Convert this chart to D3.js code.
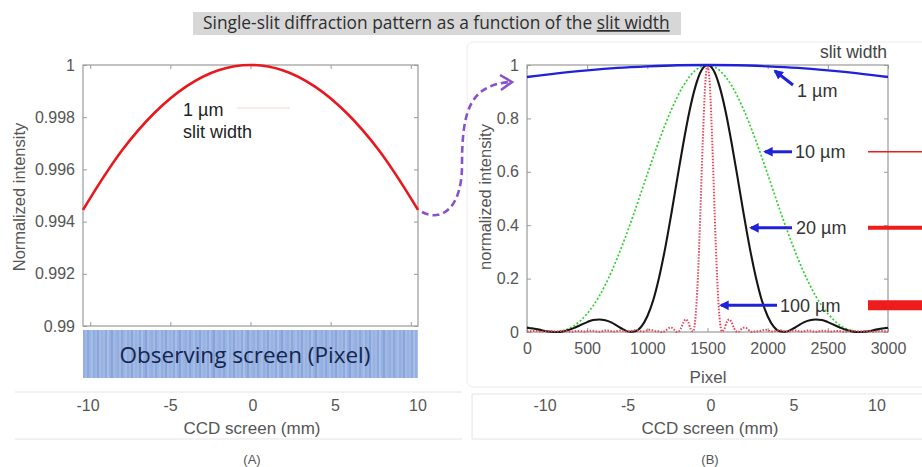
<!DOCTYPE html>
<html>
<head>
<meta charset="utf-8">
<script src="https://cdn.jsdelivr.net/npm/d3@7/dist/d3.min.js"></script>
<style>
  body { margin: 0; background: #fff; }
  text { font-family: "Liberation Sans", Arial, sans-serif; }
</style>
</head>
<body>
<svg id="fig" width="922" height="467"></svg>
<script>
// ---------- data ----------
const ccdTicks = [-10, -5, 0, 5, 10];
const leftYTicks = [0.99, 0.992, 0.994, 0.996, 0.998, 1];
const rightYTicks = [0, 0.2, 0.4, 0.6, 0.8, 1];
const pixelTicks = [0, 500, 1000, 1500, 2000, 2500, 3000];

// (A) 1 µm slit: position on screen (mm) and normalized intensity
const slit1Pos = [-10.45, -10, -8, -6, -4, -2, 0, 2, 4, 6, 8, 10, 10.45];
const slit1Int = [0.99445, 0.9949, 0.99674, 0.99816, 0.99918, 0.9998, 1,
                  0.9998, 0.99918, 0.99816, 0.99674, 0.9949, 0.99445];

// (B) 1 µm slit on the pixel axis
const w1Pix = [0, 250, 500, 750, 1000, 1250, 1500, 1750, 2000, 2250, 2500, 2750, 3000];
const w1Int = [0.955, 0.969, 0.980, 0.989, 0.995, 0.999, 1, 0.999, 0.995, 0.989, 0.980, 0.969, 0.955];

// (B) 10 µm slit
const w10Pix = [0, 100, 200, 300, 400, 500, 600, 700, 800, 900, 1000, 1100, 1200, 1300, 1400, 1500,
                1600, 1700, 1800, 1900, 2000, 2100, 2200, 2300, 2400, 2500, 2600, 2700, 2800, 2900, 3000];
const w10Int = [0.019, 0.007, 0.000, 0.005, 0.026, 0.069, 0.134, 0.224, 0.334, 0.459, 0.591, 0.719, 0.833, 0.923, 0.980, 1,
                0.980, 0.923, 0.833, 0.719, 0.591, 0.459, 0.334, 0.224, 0.134, 0.069, 0.026, 0.005, 0.000, 0.007, 0.019];

// (B) 20 µm slit
const w20Pix = [0, 50, 100, 150, 200, 250, 300, 350, 400, 450, 500, 550, 600, 650, 700, 750, 800, 850, 900, 950,
                1000, 1050, 1100, 1150, 1200, 1250, 1300, 1350, 1400, 1450, 1500,
                1550, 1600, 1650, 1700, 1750, 1800, 1850, 1900, 1950, 2000, 2050, 2100, 2150, 2200, 2250,
                2300, 2350, 2400, 2450, 2500, 2550, 2600, 2650, 2700, 2750, 2800, 2850, 2900, 2950, 3000];
const w20Int = [0.016, 0.013, 0.009, 0.004, 0.001, 0.000, 0.002, 0.008, 0.017, 0.027, 0.037, 0.045, 0.047, 0.044, 0.036,
                0.023, 0.010, 0.001, 0.003, 0.020, 0.059, 0.121, 0.209, 0.318, 0.444, 0.578, 0.709, 0.827, 0.920, 0.980, 1,
                0.980, 0.920, 0.827, 0.709, 0.578, 0.444, 0.318, 0.209, 0.121, 0.059, 0.020, 0.003, 0.001, 0.010,
                0.023, 0.036, 0.044, 0.047, 0.045, 0.037, 0.027, 0.017, 0.008, 0.002, 0.000, 0.001, 0.004, 0.009, 0.013, 0.016];

// (B) 100 µm slit
const w100Pix = [0, 60, 120, 180, 240, 300, 360, 420, 480, 540, 600, 660, 720, 780, 840, 900, 960, 1020, 1080,
                 1100, 1120, 1140, 1160, 1180, 1200, 1220, 1240, 1260, 1280, 1300, 1320, 1340, 1360, 1380, 1400,
                 1420, 1440, 1460, 1480, 1500, 1520, 1540, 1560, 1580, 1600, 1620, 1640, 1660, 1680, 1700,
                 1720, 1740, 1760, 1780, 1800, 1820, 1840, 1860, 1880, 1900,
                 1920, 1980, 2040, 2100, 2160, 2220, 2280, 2340, 2400, 2460, 2520, 2580, 2640, 2700, 2760,
                 2820, 2880, 2940, 3000];
const w100Int = [0.002, 0.004, 0.001, 0.004, 0.002, 0.005, 0.001, 0.004, 0.002, 0.005, 0.001, 0.006, 0.002, 0.006,
                 0.001, 0.007, 0.002, 0.008, 0.003,
                 0.003, 0.000, 0.002, 0.008, 0.015, 0.016, 0.010, 0.001, 0.002, 0.015, 0.036, 0.047, 0.037, 0.011,
                 0.002, 0.055, 0.203, 0.438, 0.706, 0.919, 1, 0.919, 0.706, 0.438, 0.203, 0.055, 0.002, 0.011,
                 0.037, 0.047, 0.036, 0.015, 0.002, 0.001, 0.010, 0.016, 0.015, 0.008, 0.002, 0.000, 0.003,
                 0.003, 0.008, 0.002, 0.007, 0.001, 0.006, 0.002, 0.006, 0.001, 0.005, 0.002, 0.004, 0.001,
                 0.005, 0.002, 0.004, 0.001, 0.004, 0.002];

// right-hand annotations: label, pointed intensity, legend bar thickness
const slitLabels = ["10 µm", "20 µm", "100 µm"];
const arrowY = [0.675, 0.39, 0.1];
const legendWidths = [1.5, 4, 10];

// stripe shades for the observing-screen strip
const stripeShade = [0.55, 0.2, 0.75, 0.35, 0.1, 0.6, 0.3, 0.85, 0.15, 0.45, 0.25, 0.7, 0.05, 0.5, 0.9, 0.2, 0.4];

// ---------- drawing ----------
const svg = d3.select("#fig");
const gray = "#9a9a9a";
const labelColor = "#555";
const tickFont = "16px";
const titleFont = "16.5px";

// title banner
svg.append("rect").attr("x", 193).attr("y", 12).attr("width", 488).attr("height", 23).attr("fill", "#d7d7d7");
const title = svg.append("text").attr("x", 203).attr("y", 29)
  .style("font-family", "'Open Sans', sans-serif").style("font-size", "14px").attr("fill", "#2e2e2e");
title.append("tspan").text("Single-slit diffraction pattern as a function of the ");
title.append("tspan").text("slit width").style("text-decoration", "underline");
{
  const w = title.node().getComputedTextLength();
  title.style("font-size", (14 * 467 / w) + "px");
}

// faint panel frames
svg.append("rect").attr("x", 467).attr("y", 42).attr("width", 470).attr("height", 345).attr("rx", 6)
  .attr("fill", "none").attr("stroke", "#ececec");
svg.append("line").attr("x1", 15).attr("x2", 462).attr("y1", 392).attr("y2", 392).attr("stroke", "#e4e4e4");
svg.append("line").attr("x1", 15).attr("x2", 462).attr("y1", 439).attr("y2", 439).attr("stroke", "#e4e4e4");
svg.append("path").attr("d", "M472,439 V394 H922").attr("fill", "none").attr("stroke", "#e4e4e4");
svg.append("line").attr("x1", 472).attr("x2", 922).attr("y1", 439).attr("y2", 439).attr("stroke", "#e4e4e4");

function boxAxes(g, x, y, xTicks, yTicks, yFmt, xFmt) {
  const [x0, x1] = x.range(), [y0, y1] = y.range();
  g.append("rect").attr("x", x0).attr("y", y1).attr("width", x1 - x0).attr("height", y0 - y1)
    .attr("fill", "none").attr("stroke", gray).attr("stroke-width", 1.2);
  const style = a => {
    a.select(".domain").remove();
    a.selectAll(".tick line").attr("stroke", gray);
    a.selectAll(".tick text").attr("fill", labelColor).style("font-size", tickFont)
      .style("font-family", "'Liberation Sans', Arial, sans-serif");
  };
  g.append("g").attr("transform", `translate(${x0},0)`)
    .call(d3.axisLeft(y).tickValues(yTicks).tickSize(-4).tickPadding(8).tickFormat(yFmt)).call(style);
  g.append("g").attr("transform", `translate(${x1},0)`)
    .call(d3.axisRight(y).tickValues(yTicks).tickSize(-4).tickFormat("")).call(style);
  g.append("g").attr("transform", `translate(0,${y1})`)
    .call(d3.axisTop(x).tickValues(xTicks).tickSize(-4).tickFormat("")).call(style);
  g.append("g").attr("transform", `translate(0,${y0})`)
    .call(d3.axisBottom(x).tickValues(xTicks).tickSize(-4).tickPadding(11).tickFormat(xFmt || "")).call(style);
}

// ----- panel A -----
const xA = d3.scaleLinear().domain([-10.45, 10.45]).range([83, 418]);
const yA = d3.scaleLinear().domain([0.99, 1]).range([326, 65]);
const gA = svg.append("g");
boxAxes(gA, xA, yA, ccdTicks, leftYTicks, d3.format("~g"));

gA.append("path")
  .datum(slit1Pos.map((p, i) => [p, slit1Int[i]]))
  .attr("fill", "none").attr("stroke", "#e8191e").attr("stroke-width", 2.6)
  .attr("d", d3.line().x(d => xA(d[0])).y(d => yA(d[1])).curve(d3.curveMonotoneX));

gA.append("text").attr("x", 183).attr("y", 116).attr("fill", "#222").style("font-size", "18px").text("1 µm");
gA.append("text").attr("x", 183).attr("y", 138).attr("fill", "#222").style("font-size", "18px").text("slit width");
gA.append("line").attr("x1", 237).attr("x2", 290).attr("y1", 108).attr("y2", 108)
  .attr("stroke", "#f6d0d0").attr("stroke-width", 1);

gA.append("text").attr("transform", "translate(25,197) rotate(-90)").attr("text-anchor", "middle")
  .attr("fill", labelColor).style("font-size", titleFont).text("Normalized intensity");

// observing screen strip
const strip = svg.append("g");
strip.append("rect").attr("x", 83).attr("y", 330).attr("width", 335).attr("height", 48).attr("fill", "#a9c0e8");
const stripeX = d3.range(84, 418, 2);
strip.selectAll("line.stripe").data(stripeX).join("line").attr("class", "stripe")
  .attr("x1", d => d).attr("x2", d => d).attr("y1", 330).attr("y2", 378)
  .attr("stroke", "#5f82cc").attr("stroke-width", 1)
  .attr("stroke-opacity", (d, i) => stripeShade[i % stripeShade.length]);
strip.append("text").attr("x", 245).attr("y", 363).attr("text-anchor", "middle")
  .style("font-family", "'Open Sans', sans-serif").style("font-size", "22.5px").attr("fill", "#15254d")
  .text("Observing screen (Pixel)");

// ----- panel B -----
const xB = d3.scaleLinear().domain([0, 3000]).range([527, 888]);
const yB = d3.scaleLinear().domain([0, 1]).range([332, 65]);
const gB = svg.append("g");
boxAxes(gB, xB, yB, pixelTicks, rightYTicks, d3.format("~g"), d3.format("d"));

const lineB = d3.line().x(d => xB(d[0])).y(d => yB(d[1])).curve(d3.curveMonotoneX);
const zipB = (px, v) => px.map((p, i) => [p, v[i]]);

gB.append("path").datum(zipB(w10Pix, w10Int)).attr("d", lineB)
  .attr("fill", "none").attr("stroke", "#2ed12e").attr("stroke-width", 1.7).attr("stroke-dasharray", "2,2");
gB.append("path").datum(zipB(w20Pix, w20Int)).attr("d", lineB)
  .attr("fill", "none").attr("stroke", "#151515").attr("stroke-width", 2.1);
gB.append("path").datum(zipB(w100Pix, w100Int)).attr("d", lineB)
  .attr("fill", "none").attr("stroke", "#e4485a").attr("stroke-width", 2).attr("stroke-dasharray", "1.5,1.5");
gB.append("path").datum(zipB(w1Pix, w1Int)).attr("d", lineB)
  .attr("fill", "none").attr("stroke", "#1f22d8").attr("stroke-width", 2.3);

gB.append("text").attr("transform", "translate(491,197) rotate(-90)").attr("text-anchor", "middle")
  .attr("fill", labelColor).style("font-size", titleFont).text("normalized intensity");
gB.append("text").attr("x", 708).attr("y", 383).attr("text-anchor", "middle")
  .attr("fill", labelColor).style("font-size", "17px").text("Pixel");
gB.append("text").attr("x", 887).attr("y", 58).attr("text-anchor", "end")
  .attr("fill", "#444").style("font-size", "17.5px").text("slit width");

// blue pointer arrows
const defs = svg.append("defs");
defs.append("marker").attr("id", "bluehead").attr("viewBox", "0 0 10 10").attr("refX", 8).attr("refY", 5)
  .attr("markerWidth", 3.2).attr("markerHeight", 3.2).attr("orient", "auto")
  .append("path").attr("d", "M0,0 L10,5 L0,10 Z").attr("fill", "#1f22d8");
function pointer(x1, y1, x2, y2) {
  gB.append("line").attr("x1", x1).attr("y1", y1).attr("x2", x2).attr("y2", y2)
    .attr("stroke", "#1f22d8").attr("stroke-width", 3).attr("marker-end", "url(#bluehead)");
}
pointer(793, 85, 775, 71);
gB.append("text").attr("x", 797).attr("y", 97).attr("fill", "#333").style("font-size", "18px").text("1 µm");

const arrowHeadX = [765, 751, 721];
const arrowTailX = [792, 792, 777];
const labelX = [795, 796, 780];
slitLabels.forEach((lab, i) => {
  const yy = yB(arrowY[i]);
  pointer(arrowTailX[i], yy, arrowHeadX[i], yy);
  gB.append("text").attr("x", labelX[i]).attr("y", yy + 6.5).attr("fill", "#333").style("font-size", "18px").text(lab);
  gB.append("line").attr("x1", 868).attr("x2", 922).attr("y1", yy).attr("y2", yy)
    .attr("stroke", "#ee1c1c").attr("stroke-width", legendWidths[i]);
});

// dashed connector from panel A to panel B
svg.append("path").attr("d", "M422,212 C440,222 462,210 462,165 C462,110 470,86 509,82")
  .attr("fill", "none").attr("stroke", "#8752cc").attr("stroke-width", 2.6).attr("stroke-dasharray", "7,4");
svg.append("path").attr("d", "M500,75 L512,82 L501,90")
  .attr("fill", "none").attr("stroke", "#8752cc").attr("stroke-width", 2.6);

// CCD screen scales under both panels
const ccdA = d3.scaleLinear().domain([-10, 10]).range([88, 418]);
const ccdB = d3.scaleLinear().domain([-10, 10]).range([545, 877]);
[[ccdA, 252, "(A)"], [ccdB, 710, "(B)"]].forEach(([sc, cx, tag]) => {
  const g = svg.append("g");
  g.selectAll("text.tk").data(ccdTicks).join("text").attr("class", "tk")
    .attr("x", d => sc(d)).attr("y", 411).attr("text-anchor", "middle")
    .attr("fill", labelColor).style("font-size", tickFont).text(d => d);
  g.append("text").attr("x", cx).attr("y", 434).attr("text-anchor", "middle")
    .attr("fill", labelColor).style("font-size", "17px").text("CCD screen (mm)");
  g.append("text").attr("x", cx).attr("y", 464).attr("text-anchor", "middle")
    .attr("fill", labelColor).style("font-size", "13px").text(tag);
});
</script>
</body>
</html>
